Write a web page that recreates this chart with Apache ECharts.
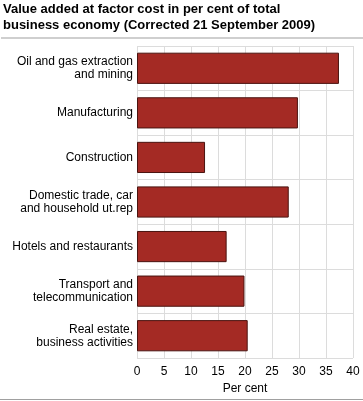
<!DOCTYPE html>
<html><head><meta charset="utf-8">
<script src="https://cdn.jsdelivr.net/npm/echarts@6/dist/echarts.min.js"></script>
<style>html,body{margin:0;padding:0;background:#fff}#c{width:363px;height:401px}</style>
</head><body><div id="c"></div>
<script>
const titleText = "Value added at factor cost in per cent of total\nbusiness economy (Corrected 21 September 2009)";
const categories = ["Oil and gas extraction\nand mining","Manufacturing","Construction","Domestic trade, car\nand household ut.rep","Hotels and restaurants","Transport and\ntelecommunication","Real estate,\nbusiness activities"];
const values = [37.4, 29.8, 12.6, 28.1, 16.6, 19.9, 20.5];
const xTicks = {min:0, max:40, interval:5};
const axisName = "Per cent";

const chart = echarts.init(document.getElementById('c'), null, {renderer:'canvas'});
chart.setOption({
  animation:false,
  title:{text:titleText,left:3,top:1,padding:0,textStyle:{fontFamily:'Liberation Sans, Arial',fontWeight:'bold',fontSize:13,lineHeight:16,color:'#000'}},
  graphic:[
    {type:'rect',shape:{x:1,y:37,width:362,height:2},style:{fill:'#cfcfcf'}},
    {type:'rect',shape:{x:0,y:399,width:363,height:1},style:{fill:'#a0a0a0'}}
  ],
  grid:{left:137,right:10,top:46,bottom:43,containLabel:false},
  xAxis:{type:'value',min:xTicks.min,max:xTicks.max,interval:xTicks.interval,
    name:axisName,nameLocation:'middle',nameGap:23,
    nameTextStyle:{fontFamily:'Liberation Sans, Arial',fontSize:12,color:'#000'},
    axisLine:{show:false},axisTick:{show:false},
    axisLabel:{fontFamily:'Liberation Sans, Arial',fontSize:12,color:'#000',margin:8},
    splitLine:{show:true,lineStyle:{color:'#dcdcdc',width:1}}},
  yAxis:{type:'category',data:categories,inverse:true,
    axisLine:{show:false},axisTick:{show:false},
    axisLabel:{fontFamily:'Liberation Sans, Arial',fontSize:12,color:'#000',margin:4,lineHeight:13},
    splitLine:{show:true,lineStyle:{color:'#dcdcdc',width:1}}},
  series:[{type:'bar',data:values,barCategoryGap:'30%',
    itemStyle:{color:'#a42a24',borderColor:'#4a1410',borderWidth:1}}]
});
</script></body></html>
